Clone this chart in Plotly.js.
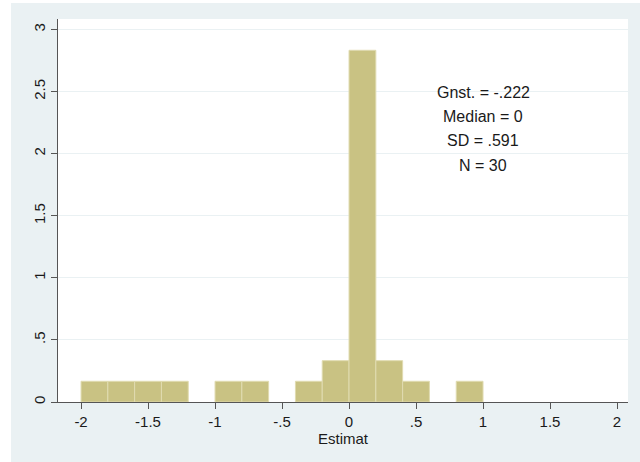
<!DOCTYPE html>
<html>
<head>
<meta charset="utf-8">
<script src="https://cdn.plot.ly/plotly-3.0.1.min.js"></script>
<style>
html, body { margin: 0; padding: 0; background: #ffffff; width: 640px; height: 462px; overflow: hidden; }
#chart { position: absolute; left: 11px; top: 3px; width: 629px; height: 459px; }
</style>
</head>
<body>
<div id="chart"></div>
<script>
// Histogram bins (width 0.2), bin centres and density heights
const binCenters = [-1.9, -1.7, -1.5, -1.3, -0.9, -0.7, -0.3, -0.1, 0.1, 0.3, 0.5, 0.9];
const densities  = [0.167, 0.167, 0.167, 0.167, 0.167, 0.167, 0.167, 0.333, 2.833, 0.333, 0.167, 0.167];
const binWidth = 0.2;

const xTickVals  = [-2, -1.5, -1, -0.5, 0, 0.5, 1, 1.5, 2];
const xTickText  = ["-2", "-1.5", "-1", "-.5", "0", ".5", "1", "1.5", "2"];
const yTickVals  = [0, 0.5, 1, 1.5, 2, 2.5, 3];
const yTickText  = ["0", ".5", "1", "1.5", "2", "2.5", "3"];

const statsLines = ["Gnst. = -.222", "Median = 0", "SD = .591", "N = 30"];
const statsY     = [2.492, 2.298, 2.105, 1.903];

const trace = {
  type: "bar",
  x: binCenters,
  y: densities,
  width: binCenters.map(() => binWidth),
  marker: { color: "#c9c283", line: { color: "#e0dbb0", width: 1 } },
  hoverinfo: "x+y"
};

const font = { family: "Liberation Sans, Arial, sans-serif", size: 15, color: "#1a1a1a" };
const annFont = { family: "Liberation Sans, Arial, sans-serif", size: 16, color: "#1a1a1a" };

const layout = {
  width: 629,
  height: 459,
  margin: { l: 47, r: 12, t: 16, b: 60 },
  paper_bgcolor: "#eaf1f3",
  plot_bgcolor: "#ffffff",
  showlegend: false,
  bargap: 0,
  font: font,
  xaxis: {
    range: [-2.172, 2.082],
    tickvals: xTickVals,
    ticktext: xTickText,
    ticks: "outside",
    ticklen: 6,
    tickcolor: "#555555",
    showline: true,
    linecolor: "#555555",
    linewidth: 1,
    showgrid: false,
    zeroline: false,
    tickfont: font,
    title: { text: "Estimat", font: font, standoff: 2 }
  },
  yaxis: {
    range: [0, 3.085],
    tickvals: yTickVals,
    ticktext: yTickText,
    tickangle: -90,
    ticks: "outside",
    ticklen: 6,
    tickcolor: "#555555",
    showline: true,
    linecolor: "#555555",
    linewidth: 1,
    showgrid: true,
    gridcolor: "#eaf1f3",
    gridwidth: 1,
    zeroline: false,
    tickfont: font
  },
  annotations: statsLines.map((t, i) => ({
    x: 1.0,
    y: statsY[i],
    xref: "x",
    yref: "y",
    xanchor: "center",
    yanchor: "middle",
    showarrow: false,
    text: t,
    font: annFont
  }))
};

Plotly.newPlot("chart", [trace], layout, { displayModeBar: false, staticPlot: true });
</script>
</body>
</html>
